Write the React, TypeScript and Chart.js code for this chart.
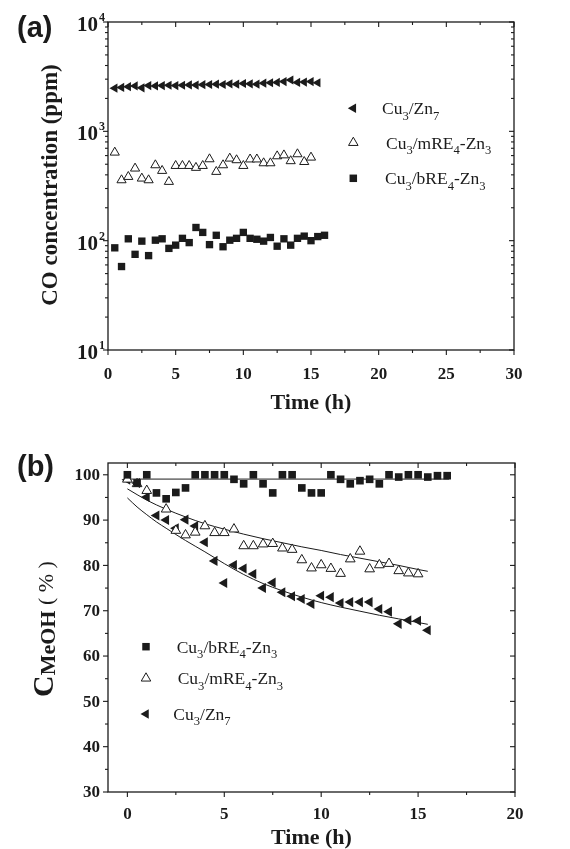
import React, { useEffect, useRef } from "react";
import { Chart, registerables } from "chart.js";
Chart.register(...registerables);

const INK = "#1b1b1b";
const SERIF = '"Liberation Serif", "Times New Roman", serif';
const SANS = '"Liberation Sans", Arial, sans-serif';

// ---------- Panel (a): CO concentration (ppm) vs Time (h), log axis ----------
const A_TIME_ZN7 = [0.5, 1, 1.5, 2, 2.5, 3, 3.5, 4, 4.5, 5, 5.5, 6, 6.5, 7, 7.5, 8, 8.5, 9, 9.5, 10, 10.5, 11, 11.5, 12, 12.5, 13, 13.5, 14, 14.5, 15, 15.5];
const A_CO_ZN7 = [2480, 2520, 2560, 2600, 2500, 2620, 2600, 2620, 2640, 2620, 2640, 2660, 2650, 2670, 2680, 2700, 2680, 2720, 2700, 2740, 2720, 2700, 2760, 2780, 2800, 2850, 2950, 2800, 2820, 2850, 2780];
const A_TIME_MRE = [0.5, 1, 1.5, 2, 2.5, 3, 3.5, 4, 4.5, 5, 5.5, 6, 6.5, 7, 7.5, 8, 8.5, 9, 9.5, 10, 10.5, 11, 11.5, 12, 12.5, 13, 13.5, 14, 14.5, 15];
const A_CO_MRE = [641, 358, 384, 458, 371, 358, 491, 436, 346, 484, 484, 484, 465, 484, 557, 427, 491, 565, 546, 484, 555, 555, 512, 512, 593, 605, 535, 619, 526, 577];
const A_TIME_BRE = [0.5, 1, 1.5, 2, 2.5, 3, 3.5, 4, 4.5, 5, 5.5, 6, 6.5, 7, 7.5, 8, 8.5, 9, 9.5, 10, 10.5, 11, 11.5, 12, 12.5, 13, 13.5, 14, 14.5, 15, 15.5, 16];
const A_CO_BRE = [86, 58, 104, 75, 99, 73, 101, 104, 85, 91, 105, 96, 132, 119, 92, 112, 88, 101, 105, 119, 105, 103, 99, 107, 89, 104, 91, 105, 110, 100, 109, 112];
const A_X_TICKS = [0, 5, 10, 15, 20, 25, 30];
const A_X_MINOR = [2.5, 7.5, 12.5, 17.5, 22.5, 27.5];
const A_Y_TICKS = [10, 100, 1000, 10000];
const A_Y_EXP = ["1", "2", "3", "4"];
const A_Y_MINOR = [20, 30, 40, 50, 60, 70, 80, 90, 200, 300, 400, 500, 600, 700, 800, 900, 2000, 3000, 4000, 5000, 6000, 7000, 8000, 9000];

// ---------- Panel (b): C_MeOH (%) vs Time (h) ----------
const B_TIME_BRE = [0, 0.5, 1, 1.5, 2, 2.5, 3, 3.5, 4, 4.5, 5, 5.5, 6, 6.5, 7, 7.5, 8, 8.5, 9, 9.5, 10, 10.5, 11, 11.5, 12, 12.5, 13, 13.5, 14, 14.5, 15, 15.5, 16, 16.5];
const B_C_BRE = [100, 98.2, 100, 96.0, 94.7, 96.1, 97.1, 100, 100, 100, 100, 99.0, 98.0, 100, 98.0, 96.0, 100, 100, 97.1, 96.0, 96.0, 100, 99.0, 98.0, 98.7, 99.0, 98.0, 100, 99.5, 100, 100, 99.5, 99.8, 99.8];
const B_TIME_MRE = [0, 0.5, 1, 2, 2.5, 3, 3.5, 4, 4.5, 5, 5.5, 6, 6.5, 7, 7.5, 8, 8.5, 9, 9.5, 10, 10.5, 11, 11.5, 12, 12.5, 13, 13.5, 14, 14.5, 15];
const B_C_MRE = [99.0, 98.0, 96.5, 92.4, 87.7, 86.7, 87.3, 88.7, 87.2, 87.2, 88.0, 84.3, 84.3, 84.7, 84.8, 83.8, 83.5, 81.2, 79.4, 80.1, 79.3, 78.2, 81.4, 83.1, 79.2, 80.1, 80.4, 78.8, 78.3, 78.1];
const B_TIME_ZN7 = [0, 0.5, 1, 1.5, 2, 2.5, 3, 3.5, 4, 4.5, 5, 5.5, 6, 6.5, 7, 7.5, 8, 8.5, 9, 9.5, 10, 10.5, 11, 11.5, 12, 12.5, 13, 13.5, 14, 14.5, 15, 15.5];
const B_C_ZN7 = [98.9, 98.2, 95.1, 91.0, 90.0, 88.2, 90.1, 88.7, 85.1, 81.0, 76.1, 80.1, 79.3, 78.1, 75.0, 76.2, 74.1, 73.2, 72.6, 71.5, 73.3, 73.0, 71.7, 71.9, 71.9, 71.9, 70.4, 69.8, 67.1, 67.9, 67.8, 65.7];
// fitted curves as drawn in the figure
const B_FIT_BRE_T = [0, 16.6];
const B_FIT_BRE = [99.05, 99.05];
const B_FIT_MRE_T = [0, 1, 2, 3, 4, 5, 6, 7, 8, 9, 10, 11, 12, 13, 14, 15, 15.5];
const B_FIT_MRE = [96.9, 94.4, 92.4, 90.7, 89.2, 88.0, 86.9, 85.9, 85.0, 84.1, 83.3, 82.4, 81.6, 80.8, 80.0, 79.1, 78.7];
const B_FIT_ZN7_T = [0, 0.5, 1, 1.5, 2, 3, 4, 5, 6, 7, 8, 9, 10, 11, 12, 13, 14, 15, 15.5];
const B_FIT_ZN7 = [94.9, 92.9, 91.2, 89.6, 88.2, 85.5, 83.0, 80.4, 78.0, 76.0, 74.4, 73.0, 71.8, 70.8, 69.9, 69.0, 68.2, 67.4, 67.0];
const B_X_TICKS = [0, 5, 10, 15, 20];
const B_X_MINOR = [2.5, 7.5, 12.5, 17.5];
const B_Y_TICKS = [30, 40, 50, 60, 70, 80, 90, 100];
const B_Y_MINOR = [35, 45, 55, 65, 75, 85, 95];

type Seg = { t: string; size: number; weight?: string; dy?: number; family?: string };

function segFont(s: Seg) {
  return `${s.weight || "normal"} ${s.size}px ${s.family || SERIF}`;
}
function richWidth(ctx: CanvasRenderingContext2D, segs: Seg[]) {
  let w = 0;
  for (const s of segs) {
    ctx.font = segFont(s);
    w += ctx.measureText(s.t).width;
  }
  return w;
}
function drawRich(ctx: CanvasRenderingContext2D, segs: Seg[], x: number, y: number, align: "left" | "center" | "right" = "left") {
  const w = richWidth(ctx, segs);
  let cx = align === "left" ? x : align === "center" ? x - w / 2 : x - w;
  ctx.textAlign = "left";
  ctx.textBaseline = "alphabetic";
  for (const s of segs) {
    ctx.font = segFont(s);
    ctx.fillText(s.t, cx, y + (s.dy || 0));
    cx += ctx.measureText(s.t).width;
  }
}
function chem(parts: string[], size: number): Seg[] {
  return parts.map((t, i) => (i % 2 === 0 ? { t, size } : { t, size: size * 0.72, dy: size * 0.3 }));
}
function marker(ctx: CanvasRenderingContext2D, kind: string, x: number, y: number, r: number) {
  ctx.save();
  ctx.fillStyle = INK;
  ctx.strokeStyle = INK;
  ctx.lineWidth = 1;
  ctx.beginPath();
  if (kind === "square") {
    const s = r * Math.SQRT1_2;
    ctx.rect(x - s, y - s, 2 * s, 2 * s);
    ctx.fill();
  } else if (kind === "open") {
    const h = 0.866 * r;
    ctx.moveTo(x, y - r);
    ctx.lineTo(x + h, y + r / 2);
    ctx.lineTo(x - h, y + r / 2);
    ctx.closePath();
    ctx.fillStyle = "#fff";
    ctx.fill();
    ctx.stroke();
  } else {
    const h = 0.866 * r;
    ctx.moveTo(x - r, y);
    ctx.lineTo(x + r / 2, y - h);
    ctx.lineTo(x + r / 2, y + h);
    ctx.closePath();
    ctx.fill();
  }
  ctx.restore();
}
function hline(ctx: CanvasRenderingContext2D, x1: number, y1: number, x2: number, y2: number) {
  ctx.beginPath();
  ctx.moveTo(x1, y1);
  ctx.lineTo(x2, y2);
  ctx.stroke();
}

const pts = (xs: number[], ys: number[]) => xs.map((x, i) => ({ x, y: ys[i] }));

const frameA = {
  id: "frameA",
  afterDraw(chart: any) {
    const { ctx, chartArea: a, scales } = chart;
    const x = scales.x, y = scales.y;
    ctx.save();
    ctx.strokeStyle = INK;
    ctx.fillStyle = INK;
    ctx.lineWidth = 1.3;
    ctx.strokeRect(a.left, a.top, a.right - a.left, a.bottom - a.top);
    ctx.lineWidth = 1.1;
    for (const v of A_X_TICKS) {
      const p = x.getPixelForValue(v);
      hline(ctx, p, a.bottom, p, a.bottom + 5);
      hline(ctx, p, a.top, p, a.top + 5);
    }
    for (const v of A_X_MINOR) {
      const p = x.getPixelForValue(v);
      hline(ctx, p, a.bottom, p, a.bottom + 3);
      hline(ctx, p, a.top, p, a.top + 3);
    }
    for (const v of A_Y_TICKS) {
      const p = y.getPixelForValue(v);
      hline(ctx, a.left - 5, p, a.left, p);
      hline(ctx, a.right - 5, p, a.right, p);
    }
    for (const v of A_Y_MINOR) {
      const p = y.getPixelForValue(v);
      hline(ctx, a.left - 3, p, a.left, p);
      hline(ctx, a.right - 3, p, a.right, p);
    }
    ctx.font = `bold 17px ${SERIF}`;
    ctx.textAlign = "center";
    ctx.textBaseline = "alphabetic";
    for (const v of A_X_TICKS) ctx.fillText(String(v), x.getPixelForValue(v), a.bottom + 29);
    A_Y_TICKS.forEach((v, i) => {
      const p = y.getPixelForValue(v);
      ctx.font = `bold 12px ${SERIF}`;
      const ew = ctx.measureText(A_Y_EXP[i]).width;
      ctx.textAlign = "right";
      ctx.fillText(A_Y_EXP[i], a.left - 3, p - 1);
      ctx.font = `bold 21px ${SERIF}`;
      ctx.fillText("10", a.left - 4 - ew, p + 9);
    });
    drawRich(ctx, [{ t: "Time (h)", size: 22, weight: "bold" }], (a.left + a.right) / 2, 409, "center");
    ctx.save();
    ctx.translate(56.5, 185);
    ctx.rotate(-Math.PI / 2);
    drawRich(ctx, [{ t: "CO concentration (ppm)", size: 23, weight: "bold" }], 0, 0, "center");
    ctx.restore();
    drawRich(ctx, [{ t: "(a)", size: 29, weight: "bold", family: SANS }], 17, 37, "left");
    const leg: [string, number, number, string[]][] = [
      ["left", 108.3, 382, ["Cu", "3", "/Zn", "7"]],
      ["open", 142.7, 386, ["Cu", "3", "/mRE", "4", "-Zn", "3"]],
      ["square", 178.3, 385, ["Cu", "3", "/bRE", "4", "-Zn", "3"]],
    ];
    for (const [k, yy, tx, parts] of leg) {
      marker(ctx, k, 353.3, yy, k === "square" ? 5.3 : 5.5);
      ctx.fillStyle = INK;
      drawRich(ctx, chem(parts, 17.5), tx, yy + 6, "left");
    }
    ctx.restore();
  },
};

const frameB = {
  id: "frameB",
  afterDraw(chart: any) {
    const { ctx, chartArea: a, scales } = chart;
    const x = scales.x, y = scales.y;
    ctx.save();
    ctx.strokeStyle = INK;
    ctx.fillStyle = INK;
    ctx.lineWidth = 1.3;
    ctx.strokeRect(a.left, a.top, a.right - a.left, a.bottom - a.top);
    ctx.lineWidth = 1.1;
    for (const v of B_X_TICKS) {
      const p = x.getPixelForValue(v);
      hline(ctx, p, a.bottom, p, a.bottom + 5);
      hline(ctx, p, a.top, p, a.top + 5);
    }
    for (const v of B_X_MINOR) {
      const p = x.getPixelForValue(v);
      hline(ctx, p, a.bottom, p, a.bottom + 3);
      hline(ctx, p, a.top, p, a.top + 3);
    }
    for (const v of B_Y_TICKS) {
      const p = y.getPixelForValue(v);
      hline(ctx, a.left - 5, p, a.left, p);
      hline(ctx, a.right - 5, p, a.right, p);
    }
    for (const v of B_Y_MINOR) {
      const p = y.getPixelForValue(v);
      hline(ctx, a.left - 3, p, a.left, p);
      hline(ctx, a.right - 3, p, a.right, p);
    }
    ctx.font = `bold 17px ${SERIF}`;
    ctx.textAlign = "center";
    ctx.textBaseline = "alphabetic";
    for (const v of B_X_TICKS) ctx.fillText(String(v), x.getPixelForValue(v), a.bottom + 27);
    ctx.textAlign = "right";
    ctx.textBaseline = "middle";
    for (const v of B_Y_TICKS) ctx.fillText(String(v), a.left - 8, y.getPixelForValue(v) + 1);
    drawRich(ctx, [{ t: "Time (h)", size: 22, weight: "bold" }], (a.left + a.right) / 2, 424, "center");
    ctx.save();
    ctx.translate(53, 209);
    ctx.rotate(-Math.PI / 2);
    drawRich(
      ctx,
      [
        { t: "C", size: 30, weight: "bold" },
        { t: "MeOH", size: 22, weight: "bold", dy: 2 },
        { t: " ( % )", size: 22 },
      ],
      0,
      0,
      "center"
    );
    ctx.restore();
    drawRich(ctx, [{ t: "(b)", size: 29, weight: "bold", family: SANS }], 17, 55.7, "left");
    const leg: [string, number, number, string[]][] = [
      ["square", 226.7, 176.7, ["Cu", "3", "/bRE", "4", "-Zn", "3"]],
      ["open", 258.3, 177.7, ["Cu", "3", "/mRE", "4", "-Zn", "3"]],
      ["left", 294, 173.3, ["Cu", "3", "/Zn", "7"]],
    ];
    for (const [k, yy, tx, parts] of leg) {
      marker(ctx, k, 146, yy, k === "square" ? 5.3 : 5.5);
      ctx.fillStyle = INK;
      drawRich(ctx, chem(parts, 17.5), tx, yy + 6, "left");
    }
    ctx.restore();
  },
};

function useChart(ref: React.RefObject<HTMLCanvasElement | null>, make: (c: HTMLCanvasElement) => Chart) {
  useEffect(() => {
    if (!ref.current) return;
    const ch = make(ref.current);
    return () => ch.destroy();
  }, []);
}

export default function App() {
  const refA = useRef<HTMLCanvasElement>(null);
  const refB = useRef<HTMLCanvasElement>(null);

  useChart(refA, (c) =>
    new Chart(c, {
      type: "scatter",
      data: {
        datasets: [
          { label: "Cu3/Zn7", data: pts(A_TIME_ZN7, A_CO_ZN7), pointStyle: "triangle", pointRotation: -90, pointRadius: 5.3, backgroundColor: INK, borderWidth: 0 } as any,
          { label: "Cu3/mRE4-Zn3", data: pts(A_TIME_MRE, A_CO_MRE), pointStyle: "triangle", pointRadius: 5.3, backgroundColor: "#fff", borderColor: INK, borderWidth: 1 },
          { label: "Cu3/bRE4-Zn3", data: pts(A_TIME_BRE, A_CO_BRE), pointStyle: "rect", pointRadius: 5.2, backgroundColor: INK, borderWidth: 0 },
        ],
      },
      options: {
        responsive: false,
        animation: false,
        events: [],
        layout: { padding: { left: 108, right: 56, top: 22, bottom: 70 } },
        plugins: { legend: { display: false }, tooltip: { enabled: false } },
        scales: {
          x: { type: "linear", min: 0, max: 30, display: false },
          y: { type: "logarithmic", min: 10, max: 10000, display: false },
        },
      },
      plugins: [frameA],
    } as any)
  );

  useChart(refB, (c) =>
    new Chart(c, {
      type: "scatter",
      data: {
        datasets: [
          { label: "Cu3/bRE4-Zn3", data: pts(B_TIME_BRE, B_C_BRE), pointStyle: "rect", pointRadius: 5.4, backgroundColor: INK, borderWidth: 0 },
          { label: "Cu3/mRE4-Zn3", data: pts(B_TIME_MRE, B_C_MRE), pointStyle: "triangle", pointRadius: 5.6, backgroundColor: "#fff", borderColor: INK, borderWidth: 1 },
          { label: "Cu3/Zn7", data: pts(B_TIME_ZN7, B_C_ZN7), pointStyle: "triangle", pointRotation: -90, pointRadius: 5.8, backgroundColor: INK, borderWidth: 0 } as any,
          { label: "fit bRE", data: pts(B_FIT_BRE_T, B_FIT_BRE), showLine: true, pointRadius: 0, borderColor: INK, borderWidth: 1 },
          { label: "fit mRE", data: pts(B_FIT_MRE_T, B_FIT_MRE), showLine: true, pointRadius: 0, borderColor: INK, borderWidth: 1, cubicInterpolationMode: "monotone" },
          { label: "fit Zn7", data: pts(B_FIT_ZN7_T, B_FIT_ZN7), showLine: true, pointRadius: 0, borderColor: INK, borderWidth: 1, cubicInterpolationMode: "monotone" },
        ],
      },
      options: {
        responsive: false,
        animation: false,
        events: [],
        layout: { padding: { left: 108, right: 55, top: 43, bottom: 57 } },
        plugins: { legend: { display: false }, tooltip: { enabled: false } },
        scales: {
          x: { type: "linear", min: -1, max: 20, display: false },
          y: { type: "linear", min: 30, max: 102.6, display: false },
        },
      },
      plugins: [frameB],
    } as any)
  );

  return (
    <div style={{ position: "absolute", left: 0, top: 0, width: 570, height: 849, background: "#fff" }}>
      <canvas ref={refA} width={570} height={420} style={{ position: "absolute", left: 0, top: 0, display: "block" }} />
      <canvas ref={refB} width={570} height={429} style={{ position: "absolute", left: 0, top: 420, display: "block" }} />
    </div>
  );
}
